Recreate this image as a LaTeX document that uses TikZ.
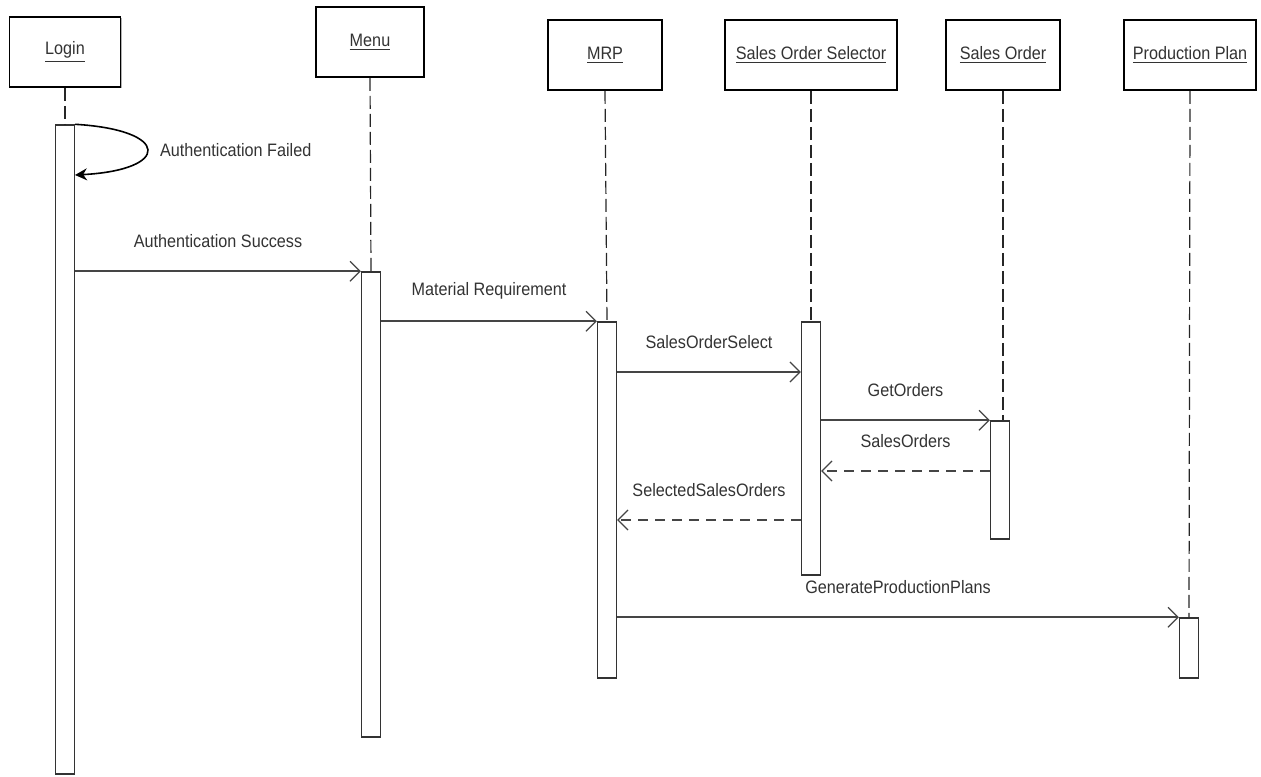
\documentclass[tikz,border=0pt]{standalone}
\usepackage{fontspec}
\setmainfont{Liberation Sans}[FakeStretch=0.9]
\usepackage{tikz}
\usetikzlibrary{arrows.meta,shadows}
\definecolor{inkx}{HTML}{333333}
\definecolor{linex}{HTML}{454545}
\tikzset{
  obj/.style={draw=black,line width=0.8pt,fill=white,minimum height=35pt,inner sep=0pt,
    font=\fontsize{9}{10.8}\selectfont,text=inkx,
    drop shadow={shadow xshift=0.7pt,shadow yshift=-0.7pt,fill=black!60}},
  act/.style={draw=black!80,line width=0.7pt,fill=white,minimum width=9.5pt,inner sep=0pt},
  life/.style={draw=black!85,line width=0.6pt,dash pattern=on 6.5pt off 2.5pt},
  msg/.style={linex,line width=1.1pt,-{Straight Barb[length=5pt,width=10pt,line width=0.6pt]}},
  ret/.style={msg,dash pattern=on 5pt off 3.5pt},
  selfmsg/.style={black,line width=0.8pt,-{Stealth[length=6pt,width=6pt]}},
  lbl/.style={midway,yshift=15pt,font=\fontsize{9}{10.8}\selectfont,text=inkx}
}

\begin{document}
\begin{tikzpicture}[x=0.5pt,y=-0.5pt]
\useasboundingbox (0,0) rectangle (1261,776);
% objects
\node[obj,minimum width=55.5pt] (login) at (65,52) {\underline{Login}};
\node[obj,minimum width=54pt] (menu) at (370,42) {\underline{Menu}};
\node[obj,minimum width=57pt] (mrp) at (605,55) {\underline{MRP}};
\node[obj,minimum width=86pt] (sos) at (811,55) {\underline{Sales Order Selector}};
\node[obj,minimum width=57pt] (so) at (1003,55) {\underline{Sales Order}};
\node[obj,minimum width=66pt] (pp) at (1190,55) {\underline{Production Plan}};
% activations
\node[act,minimum height=324.5pt] (actLogin) at (65,449.5) {};
\node[act,minimum height=232.5pt] (actMenu) at (371,504.5) {};
\node[act,minimum height=178pt] (actMRP) at (607,500) {};
\node[act,minimum height=126.5pt] (actSOS) at (811,448.5) {};
\node[act,minimum height=59pt] (actSO) at (1000,480) {};
\node[act,minimum height=30pt] (actPP) at (1189,648) {};
% lifelines
\draw[life] (login.south) -- (actLogin.north);
\draw[life] (menu.south) -- (actMenu.north);
\draw[life] (mrp.south) -- (actMRP.north);
\draw[life] (sos.south) -- (actSOS.north);
\draw[life] (so.south) -- (so.south |- actSO.north);
\draw[life] (pp.south) -- (actPP.north);
% messages
\coordinate (failEnd) at (75,175);
\coordinate (ySel) at (0,372);
\coordinate (yRet) at (0,471);
\coordinate (ySelRet) at (0,520);
\draw[selfmsg] (actLogin.north east) .. controls (171,130) and (171,170) .. (failEnd);
\node[anchor=west,font=\fontsize{9}{10.8}\selectfont,text=inkx] at (153,150) {Authentication Failed};
\draw[msg] (actLogin.east |- actMenu.north) -- (actMenu.north west) node[lbl] {Authentication Success};
\draw[msg] (actMenu.east |- actMRP.north) -- (actMRP.north west) node[lbl] {Material Requirement};
\draw[msg] (actMRP.east |- ySel) -- (actSOS.west |- ySel) node[lbl] {SalesOrderSelect};
\draw[msg] (actSOS.east |- actSO.north) -- (actSO.north west) node[lbl] {GetOrders};
\draw[ret] (actSO.west |- yRet) -- (actSOS.east |- yRet) node[lbl] {SalesOrders};
\draw[ret] (actSOS.west |- ySelRet) -- (actMRP.east |- ySelRet) node[lbl] {SelectedSalesOrders};
\draw[msg] (actMRP.east |- actPP.north) -- (actPP.north west) node[lbl] {GenerateProductionPlans};
\end{tikzpicture}
\end{document}
